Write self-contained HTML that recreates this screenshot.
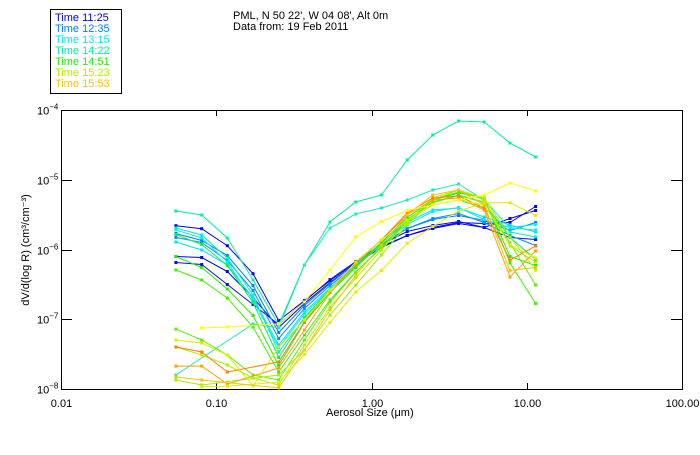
<!DOCTYPE html>
<html><head><meta charset="utf-8"><style>
body{margin:0;background:#fff;width:700px;height:450px;overflow:hidden;font-family:"Liberation Sans","DejaVu Sans",sans-serif}
svg text{font-family:"Liberation Sans","DejaVu Sans",sans-serif}
</style></head><body>
<svg id="chart" width="700" height="450" viewBox="0 0 700 450" xmlns="http://www.w3.org/2000/svg">
<rect x="0" y="0" width="700" height="450" fill="#fff"/>
<g id="legend">
<rect x="50.5" y="9.5" width="71" height="84" fill="none" stroke="#000"/>
</g>
<text x="233" y="19" font-size="11" fill="#000">PML, N 50 22', W 04 08', Alt 0m</text>
<text x="233" y="30" font-size="11" fill="#000">Data from: 19 Feb 2011</text>
<g id="axes"></g>
<g id="series"></g>
<text x="326" y="416" font-size="11" fill="#000">Aerosol Size (μm)</text>
<text transform="translate(29,250) rotate(-90)" text-anchor="middle" font-size="11" fill="#000">dV/d(log R) (cm³/cm⁻³)</text>
</svg>
<script>
// Size bins: log10 of aerosol diameter (µm)
const sizeLog = [-1.26,-1.094,-0.929,-0.763,-0.598,-0.432,-0.267,-0.101,0.064,0.23,0.395,0.561,0.726,0.892,1.057];
const xTickValues = [0.01,0.1,1,10,100];
const xTickLabels = ["0.01","0.10","1.00","10.00","100.00"];
const yTickExps = [-4,-5,-6,-7,-8];
const legendLabels = ["Time 11:25","Time 12:35","Time 13:15","Time 14:22","Time 14:51","Time 15:23","Time 15:53"];
const legendColors = ["#0000ff","#0080ff","#00e8ff","#00f0a0","#20f000","#b0f000","#ffc000"];
// Series values: log10 of dV/d(log R)
const s1 = [-5.659,-5.702,-5.946,-6.347,-7.02,-6.733,-6.446,-6.186,-5.957,-5.799,-5.685,-5.613,-5.627,-5.613,-5.384];
const s2 = [-6.1,-6.115,-6.315,-6.688,-7.118,-6.774,-6.473,-6.2,-5.971,-5.799,-5.699,-5.627,-5.685,-5.556,-5.441];
const s3 = [-6.186,-6.215,-6.502,-6.789,-7.075,-6.745,-6.43,-6.172,-5.928,-5.742,-5.656,-5.599,-5.685,-5.828,-5.857];
const s4 = [-5.771,-5.871,-6.086,-6.516,-7.19,-6.803,-6.487,-6.2,-5.928,-5.699,-5.57,-5.513,-5.584,-5.728,-5.613];
const s5 = [-5.828,-5.899,-6.158,-6.588,-7.276,-6.846,-6.516,-6.229,-5.943,-5.699,-5.556,-5.484,-5.613,-5.799,-5.943];
const s6 = [-5.892,-6.007,-6.222,-6.695,-7.369,-6.896,-6.552,-6.222,-5.907,-5.606,-5.434,-5.405,-5.534,-5.649,-5.749];
const s7 = [-5.721,-5.835,-6.179,-6.724,-7.405,-6.925,-6.573,-6.244,-5.928,-5.642,-5.455,-5.398,-5.57,-5.685,-5.642];
const s8 = [-5.448,-5.505,-5.835,-6.437,-7.082,-6.222,-5.606,-5.319,-5.219,-4.717,-4.358,-4.158,-4.172,-4.473,-4.674];
const s9 = [-7.799,null,null,-7.068,-7.125,-6.222,-5.692,-5.491,-5.405,-5.29,-5.147,-5.061,-5.29,-5.692,-5.721];
const s10 = [-5.692,-5.792,-6.122,-6.652,-7.470,-6.982,-6.581,-6.237,-5.907,-5.577,-5.362,-5.29,-5.405,-5.749,-5.821];
const s11 = [-5.785,-5.928,-6.229,-6.76,-7.548,-6.975,-6.573,-6.229,-5.899,-5.57,-5.326,-5.226,-5.326,-5.828,-6.143];
const s12 = [-6.1,-6.258,-6.566,-6.946,-7.663,-7.047,-6.616,-6.258,-5.899,-5.541,-5.29,-5.19,-5.262,-6.1,-6.229];
const s13 = [-6.294,-6.437,-6.695,-7.111,-7.756,-7.226,-6.724,-6.323,-5.964,-5.599,-5.29,-5.176,-5.262,-6.194,-6.774];
const s14 = [-7.141,-7.298,-7.513,-7.799,-7.871,-7.297,-6.752,-6.323,-5.978,-5.606,-5.319,-5.219,-5.319,-5.907,-6.509];
const s15 = [-7.398,-7.513,-7.656,-7.842,-7.943,-7.369,-6.824,-6.409,-6.007,-5.606,-5.262,-5.147,-5.262,-5.821,-6.294];
const s16 = [-7.871,-7.943,null,null,-7.799,-7.441,-6.939,-6.509,-6.079,-5.649,-5.29,-5.147,-5.29,-5.950,-6.179];
const s17 = [-7.671,-7.671,-7.928,null,-7.699,-7.154,-6.624,-6.208,-5.864,-5.505,-5.29,-5.262,-5.434,-6.394,-6.022];
const s18 = [-7.398,-7.470,-7.756,null,-7.613,-7.039,-6.581,-6.179,-5.864,-5.477,-5.262,-5.233,-5.405,-6.151,-5.95];
const s19 = [null,-7.968,-7.96,null,-7.903,-7.505,-7.047,-6.606,-6.301,-5.91,-5.67,-5.45,-5.33,-5.33,-5.51];
const s20 = [-7.297,-7.341,-7.513,-7.957,-7.398,-7.011,-6.581,-6.179,-5.864,-5.577,-5.362,-5.29,-5.362,-5.935,-6.122];
const s21 = [-7.827,-7.871,null,null,-7.985,-7.441,-6.867,-6.366,-5.935,-5.505,-5.219,-5.147,-5.362,-6.301,-6.258];
const s22 = [null,-7.125,-7.111,null,-7.068,-6.753,-6.294,-5.821,-5.599,-5.441,-5.362,-5.29,-5.219,-5.047,-5.161];
const seriesList = [s1,s2,s3,s4,s5,s6,s7,s8,s9,s10,s11,s12,s13,s14,s15,s16,s17,s18,s19,s20,s21,s22];
const seriesColors = ["#0000ff","#0000f0","#1010e0","#0080ff","#0090ff","#00e0ff","#00f0ff","#00f0a0","#20e8c0","#00f0c0","#10f040","#20f000","#40f000","#60f000","#b0f000","#a0f000","#ffa000","#ff8000","#e8e800","#d8f000","#ffc000","#ffff00"];

const NS="http://www.w3.org/2000/svg";
const L=61,R=682,T=110,B=389;
function xs(lg){return L+(lg+2)*(R-L)/4;}
function ys(lg){return T+(-4-lg)*(B-T)/4;}
function mk(tag,attrs,parent){const e=document.createElementNS(NS,tag);for(const k in attrs)e.setAttribute(k,attrs[k]);parent.appendChild(e);return e;}
const axes=document.getElementById('axes');
const frame=mk('rect',{x:L+0.5,y:T+0.5,width:R-L,height:B-T,fill:'none',stroke:'#000','stroke-width':1},axes);


xTickValues.forEach((v,i)=>{
  const x=Math.round(xs(Math.log10(v)))+0.5;
  const t1=mk('line',{x1:x,x2:x,y1:B,y2:B-6,stroke:'#000'},axes);
  
  
  const t2=mk('line',{x1:x,x2:x,y1:T,y2:T+6,stroke:'#000'},axes);
  
  
  const lb=mk('text',{x:x,y:B+18,'text-anchor':'middle','font-size':11,fill:'#000'},axes);
  lb.textContent=xTickLabels[i];
  
  
});
yTickExps.forEach(e=>{
  const y=Math.round(ys(e))+0.5;
  const t1=mk('line',{x1:L,x2:L+11,y1:y,y2:y,stroke:'#000'},axes);
  
  
  const t2=mk('line',{x1:R-11,x2:R,y1:y,y2:y,stroke:'#000'},axes);
  
  
  const lb=mk('text',{x:37,y:y+4,'font-size':11,fill:'#000'},axes);
  
  
  const b=document.createElementNS(NS,'tspan');b.textContent='10';lb.appendChild(b);
  const s=document.createElementNS(NS,'tspan');s.setAttribute('dy','-5');s.setAttribute('font-size','8');s.textContent=String(e).replace('-','−');lb.appendChild(s);
});
const sg=document.getElementById('series');
seriesList.forEach((arr,i)=>{
  const pts=[];
  arr.forEach((v,k)=>{if(v!==null)pts.push([xs(sizeLog[k]),ys(v)]);});
  const g=mk('g',{},sg);
  
  
  const pl=mk('polyline',{points:pts.map(p=>p[0].toFixed(1)+','+p[1].toFixed(1)).join(' '),fill:'none',stroke:seriesColors[i],'stroke-width':1},g);
  
  
  pts.forEach(p=>{
    const r=mk('rect',{x:(p[0]-1.5).toFixed(1),y:(p[1]-1.5).toFixed(1),width:3,height:3,fill:seriesColors[i]},g);
    
    
  });
});
const lg=document.getElementById('legend');
legendLabels.forEach((t,i)=>{
  const tx=mk('text',{x:55,y:21+i*11,'font-size':11,fill:legendColors[i]},lg);
  tx.textContent=t;
  
  
});
</script>
</body></html>
